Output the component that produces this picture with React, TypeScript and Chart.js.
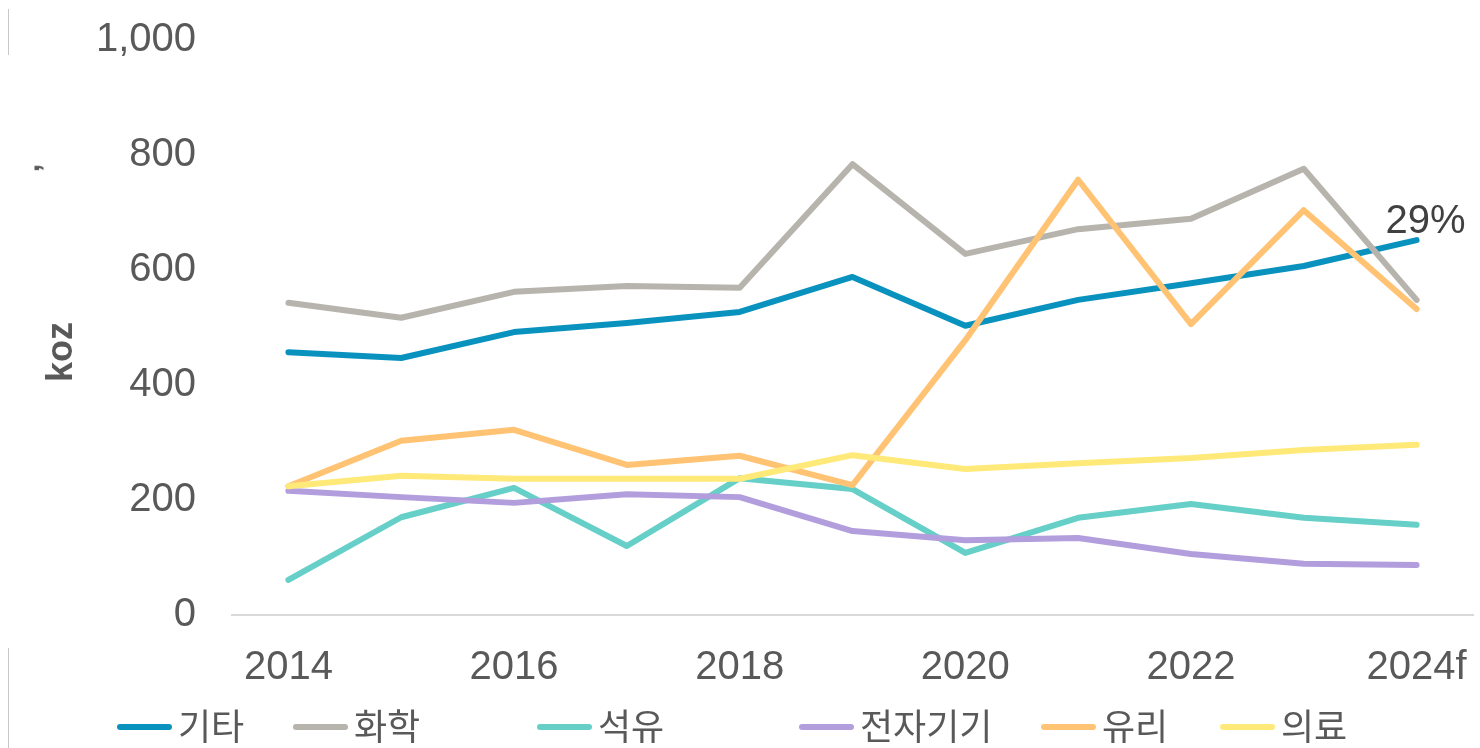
import React, { useEffect, useRef } from "react";
import { Chart, registerables } from "chart.js";

Chart.register(...registerables);

const years = ["2014", "2015", "2016", "2017", "2018", "2019", "2020", "2021", "2022", "2023", "2024f"];
const seriesNames = ["기타", "화학", "석유", "전자기기", "유리", "의료"];
const etcValues = [457, 447, 492, 508, 527, 588, 503, 548, 577, 607, 652];
const chemValues = [543, 517, 562, 572, 569, 784, 628, 671, 689, 776, 548];
const oilValues = [61, 170, 221, 120, 238, 219, 108, 169, 193, 169, 157];
const elecValues = [216, 205, 195, 210, 205, 146, 130, 134, 106, 89, 87];
const glassValues = [224, 303, 322, 261, 277, 226, 478, 757, 506, 704, 532];
const medValues = [224, 242, 237, 237, 237, 278, 254, 264, 273, 287, 296];
const yTicks = [0, 200, 400, 600, 800, 1000];
const endLabel = "29%";

const colors = ["#0a92bf", "#b7b4ad", "#66cfc8", "#b29edc", "#ffc373", "#ffe979"];
const legendLeft = [117, 293, 537, 799, 1041, 1220];

export default function App() {
  const ref = useRef<HTMLCanvasElement | null>(null);
  useEffect(() => {
    if (!ref.current) return;
    const all = [etcValues, chemValues, oilValues, elecValues, glassValues, medValues];
    const labelPlugin = {
      id: "endLabel",
      afterDatasetsDraw(chart: any) {
        const meta = chart.getDatasetMeta(0);
        const pt = meta.data[meta.data.length - 1];
        const ctx = chart.ctx;
        ctx.save();
        ctx.font = "40px 'Liberation Sans', Arial, sans-serif";
        ctx.fillStyle = "#404040";
        ctx.textAlign = "center";
        ctx.textBaseline = "alphabetic";
        ctx.fillText(endLabel, pt.x + 9, pt.y - 7);
        ctx.restore();
      },
    };
    const chart = new Chart(ref.current, {
      type: "line",
      data: {
        labels: years,
        datasets: all.map((vals, i) => ({
          label: seriesNames[i],
          data: vals,
          borderColor: colors[i],
          backgroundColor: colors[i],
          borderWidth: 6,
          pointRadius: 0,
          tension: 0,
          borderCapStyle: "round" as const,
          borderJoinStyle: "round" as const,
          order: all.length - i,
        })),
      },
      options: {
        responsive: false,
        animation: false,
        layout: { padding: { left: 0, top: 40, right: 7, bottom: 0 } },
        plugins: { legend: { display: false }, tooltip: { enabled: false } },
        scales: {
          x: {
            offset: true,
            grid: { display: false },
            border: { display: true, color: "#d9d9d9", width: 2 },
            ticks: {
              autoSkip: false,
              maxRotation: 0,
              padding: 21,
              color: "#595959",
              font: { family: "'Liberation Sans', Arial, sans-serif", size: 40 },
              callback: (_v: any, i: number) => (i % 2 === 0 ? years[i] : ""),
            },
            afterFit: (s: any) => {
              s.height = 133;
              s.paddingLeft = 0;
              s.paddingRight = 0;
            },
          },
          y: {
            min: 0,
            max: 1000,
            grid: { display: false },
            border: { display: false },
            afterBuildTicks: (s: any) => {
              s.ticks = yTicks.map((v) => ({ value: v }));
            },
            ticks: {
              padding: 28,
              color: "#595959",
              font: { family: "'Liberation Sans', Arial, sans-serif", size: 40 },
              callback: (v: any) => Number(v).toLocaleString("en-US"),
            },
            afterFit: (s: any) => {
              s.width = 232;
              s.paddingTop = 0;
              s.paddingBottom = 0;
            },
          },
        },
      },
      plugins: [labelPlugin],
    });
    return () => chart.destroy();
  }, []);

  return (
    <div style={{ position: "fixed", left: 0, top: 0, width: 1480, height: 748, background: "#fff", overflow: "hidden" }}>
      <canvas ref={ref} width={1480} height={748} style={{ position: "absolute", left: 0, top: 0 }} />
      <div style={{ position: "absolute", left: 8, top: 9, width: 1, height: 46, background: "#c8c8c8" }} />
      <div style={{ position: "absolute", left: 8, top: 648, width: 1, height: 100, background: "#c8c8c8" }} />
      <div
        style={{
          position: "absolute",
          left: 60,
          top: 352,
          transform: "translate(-50%, -50%) rotate(-90deg)",
          fontFamily: "'Liberation Sans', Arial, sans-serif",
          fontWeight: "bold",
          fontSize: 36,
          color: "#595959",
          whiteSpace: "nowrap",
          lineHeight: 1,
        }}
      >
        koz
      </div>
      <div
        style={{
          position: "absolute",
          left: 29,
          top: 168,
          transform: "translate(-50%, -50%) rotate(-90deg)",
          fontFamily: "'Liberation Sans', Arial, sans-serif",
          fontWeight: "bold",
          fontSize: 30,
          color: "#595959",
          lineHeight: 1,
        }}
      >
        ,
      </div>
      {seriesNames.map((name, i) => (
        <div
          key={name}
          style={{
            position: "absolute",
            left: legendLeft[i],
            top: 703,
            height: 42,
            display: "flex",
            alignItems: "center",
            fontFamily: "'Noto Sans CJK KR', sans-serif",
            fontSize: 36,
            color: "#595959",
            lineHeight: 1,
            whiteSpace: "nowrap",
          }}
        >
          <span style={{ display: "inline-block", width: 55, height: 6, borderRadius: 3, background: colors[i], marginRight: 6, position: "relative", top: 3 }} />
          <span>{name}</span>
        </div>
      ))}
    </div>
  );
}
